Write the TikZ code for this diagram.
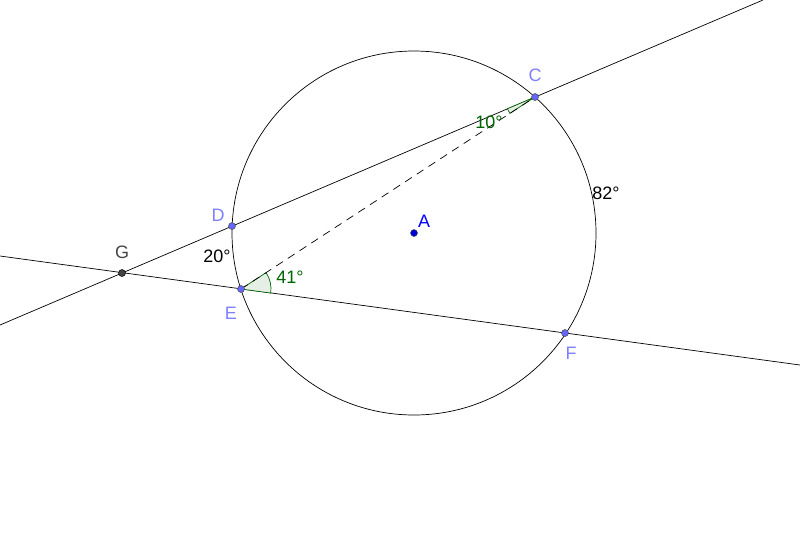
\documentclass[tikz,border=0pt]{standalone}
\usepackage{fontspec}
\setmainfont{Liberation Sans}
\usetikzlibrary{calc}
\definecolor{ptlabel}{HTML}{7F7FFF}
\definecolor{ptfill}{HTML}{6666FF}
\definecolor{angcol}{HTML}{006400}
\definecolor{gdark}{HTML}{444444}
\tikzset{
  geoline/.style={draw=black, line width=0.7pt},
  dot/.style={circle, fill=ptfill, draw=black!70, line width=0.5pt, inner sep=0pt, minimum size=7pt},
  lbl/.style={font=\fontsize{18}{21}\selectfont, inner sep=0pt, text=ptlabel},
  anglbl/.style={font=\fontsize{18}{21}\selectfont, inner sep=0pt},
  sector/.style={draw=angcol, fill=angcol!10, line width=0.7pt},
}
\begin{document}
\begin{tikzpicture}[x=1pt,y=-1pt]
\useasboundingbox (0,0) rectangle (800,547);
% points
\coordinate (A) at (414,233);
\coordinate (C) at (535,97);
\coordinate (D) at (232,226);
\coordinate (E) at (241,289);
\coordinate (F) at (565,333);
\coordinate (G) at (122,273);
% line ends
\coordinate (L1) at (0,325);
\coordinate (L2) at (763,0);
\coordinate (M1) at (0,256);
\coordinate (M2) at (800,365);
% circle
\draw[geoline] (A) circle[radius=182pt];
% lines
\draw[geoline] (L1) -- (L2);
\draw[geoline] (M1) -- (M2);
% angle sectors
\filldraw[sector] (E) -- ($(E)!30pt!(F)$) arc[start angle=-7.73, end angle=33.15, radius=30pt] -- cycle;
\filldraw[sector] (C) -- ($(C)!30pt!(D)$) arc[start angle=203.06, end angle=213.15, radius=30pt] -- cycle;
% dashed segment
\draw[geoline, dash pattern=on 8pt off 6pt] (E) -- (C);
% dots
\node[dot, fill=blue!85!black] (nA) at (A) {};
\node[dot] (nC) at (C) {};
\node[dot] (nD) at (D) {};
\node[dot] (nE) at (E) {};
\node[dot] (nF) at (F) {};
\node[dot, fill=gdark, draw=black] (nG) at (G) {};
% labels
\node[lbl, text=blue] (tA) at (424,221) {A};
\node[lbl] (tC) at (535,75) {C};
\node[lbl] (tD) at (218,215) {D};
\node[lbl] (tE) at (231,313) {E};
\node[lbl] (tF) at (571,353) {F};
\node[lbl, text=gdark] (tG) at (122,252) {G};
\node[anglbl, text=angcol] (a10) at (489,122) {10°};
\node[anglbl, text=angcol] (a41) at (290,277) {41°};
\node[anglbl] (a20) at (217,256) {20°};
\node[anglbl] (a82) at (606,193) {82°};
\end{tikzpicture}
\end{document}
